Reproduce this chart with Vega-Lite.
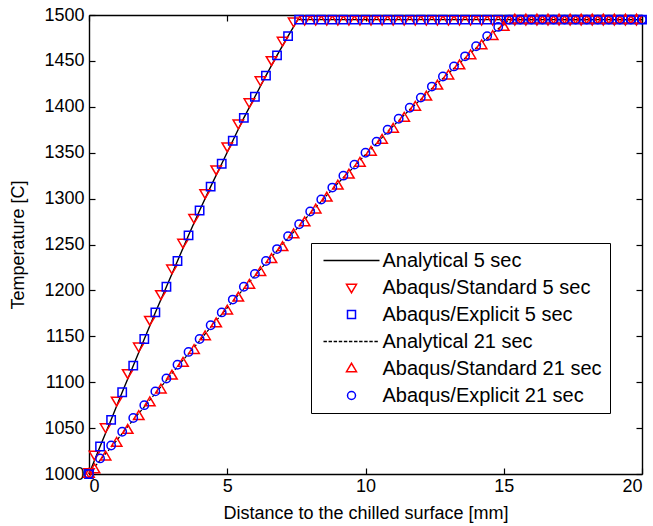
{
  "$schema": "https://vega.github.io/schema/vega-lite/v6.json",
  "width": 553,
  "height": 459,
  "autosize": {"type": "none"},
  "padding": {"left": 89, "top": 15, "right": 11, "bottom": 52},
  "background": "white",
  "config": {
    "view": {"stroke": null},
    "font": "Liberation Sans",
    "axis": {
      "grid": false,
      "domainColor": "black",
      "domainWidth": 1.4,
      "tickColor": "black",
      "tickWidth": 1.2,
      "tickSize": -6,
      "labelFont": "Liberation Sans",
      "labelFontSize": 18,
      "labelColor": "black",
      "titleFont": "Liberation Sans",
      "titleFontSize": 18,
      "titleFontWeight": "normal",
      "titleColor": "black"
    }
  },
  "data": {
    "values": [
      {"series": "Analytical 5 sec", "x": 0, "temp": 1000},
      {"series": "Analytical 5 sec", "x": 0.4, "temp": 1030},
      {"series": "Analytical 5 sec", "x": 0.8, "temp": 1059},
      {"series": "Analytical 5 sec", "x": 1.2, "temp": 1089},
      {"series": "Analytical 5 sec", "x": 1.6, "temp": 1118},
      {"series": "Analytical 5 sec", "x": 2.0, "temp": 1147},
      {"series": "Analytical 5 sec", "x": 2.4, "temp": 1176},
      {"series": "Analytical 5 sec", "x": 2.8, "temp": 1204},
      {"series": "Analytical 5 sec", "x": 3.2, "temp": 1232},
      {"series": "Analytical 5 sec", "x": 3.6, "temp": 1260},
      {"series": "Analytical 5 sec", "x": 4.0, "temp": 1287},
      {"series": "Analytical 5 sec", "x": 4.4, "temp": 1313},
      {"series": "Analytical 5 sec", "x": 4.8, "temp": 1338},
      {"series": "Analytical 5 sec", "x": 5.2, "temp": 1363},
      {"series": "Analytical 5 sec", "x": 5.6, "temp": 1388},
      {"series": "Analytical 5 sec", "x": 6.0, "temp": 1411},
      {"series": "Analytical 5 sec", "x": 6.4, "temp": 1434},
      {"series": "Analytical 5 sec", "x": 6.8, "temp": 1456},
      {"series": "Analytical 5 sec", "x": 7.2, "temp": 1477},
      {"series": "Analytical 5 sec", "x": 7.55, "temp": 1495},
      {"series": "Analytical 5 sec", "x": 20, "temp": 1495},

      {"series": "Abaqus/Standard 5 sec", "x": 0, "temp": 1002},
      {"series": "Abaqus/Standard 5 sec", "x": 0.2, "temp": 1021},
      {"series": "Abaqus/Standard 5 sec", "x": 0.6, "temp": 1051},
      {"series": "Abaqus/Standard 5 sec", "x": 1.0, "temp": 1080},
      {"series": "Abaqus/Standard 5 sec", "x": 1.4, "temp": 1110},
      {"series": "Abaqus/Standard 5 sec", "x": 1.8, "temp": 1139},
      {"series": "Abaqus/Standard 5 sec", "x": 2.2, "temp": 1168},
      {"series": "Abaqus/Standard 5 sec", "x": 2.6, "temp": 1196},
      {"series": "Abaqus/Standard 5 sec", "x": 3.0, "temp": 1224},
      {"series": "Abaqus/Standard 5 sec", "x": 3.4, "temp": 1252},
      {"series": "Abaqus/Standard 5 sec", "x": 3.8, "temp": 1279},
      {"series": "Abaqus/Standard 5 sec", "x": 4.2, "temp": 1306},
      {"series": "Abaqus/Standard 5 sec", "x": 4.6, "temp": 1332},
      {"series": "Abaqus/Standard 5 sec", "x": 5.0, "temp": 1357},
      {"series": "Abaqus/Standard 5 sec", "x": 5.4, "temp": 1382},
      {"series": "Abaqus/Standard 5 sec", "x": 5.8, "temp": 1405},
      {"series": "Abaqus/Standard 5 sec", "x": 6.2, "temp": 1429},
      {"series": "Abaqus/Standard 5 sec", "x": 6.6, "temp": 1451},
      {"series": "Abaqus/Standard 5 sec", "x": 7.0, "temp": 1472},
      {"series": "Abaqus/Standard 5 sec", "x": 7.4, "temp": 1493},
      {"series": "Abaqus/Standard 5 sec", "x": 7.8, "temp": 1495},
      {"series": "Abaqus/Standard 5 sec", "x": 8.2, "temp": 1495},
      {"series": "Abaqus/Standard 5 sec", "x": 8.6, "temp": 1495},
      {"series": "Abaqus/Standard 5 sec", "x": 9.0, "temp": 1495},
      {"series": "Abaqus/Standard 5 sec", "x": 9.4, "temp": 1495},
      {"series": "Abaqus/Standard 5 sec", "x": 9.8, "temp": 1495},
      {"series": "Abaqus/Standard 5 sec", "x": 10.2, "temp": 1495},
      {"series": "Abaqus/Standard 5 sec", "x": 10.6, "temp": 1495},
      {"series": "Abaqus/Standard 5 sec", "x": 11.0, "temp": 1495},
      {"series": "Abaqus/Standard 5 sec", "x": 11.4, "temp": 1495},
      {"series": "Abaqus/Standard 5 sec", "x": 11.8, "temp": 1495},
      {"series": "Abaqus/Standard 5 sec", "x": 12.2, "temp": 1495},
      {"series": "Abaqus/Standard 5 sec", "x": 12.6, "temp": 1495},
      {"series": "Abaqus/Standard 5 sec", "x": 13.0, "temp": 1495},
      {"series": "Abaqus/Standard 5 sec", "x": 13.4, "temp": 1495},
      {"series": "Abaqus/Standard 5 sec", "x": 13.8, "temp": 1495},
      {"series": "Abaqus/Standard 5 sec", "x": 14.2, "temp": 1495},
      {"series": "Abaqus/Standard 5 sec", "x": 14.6, "temp": 1495},
      {"series": "Abaqus/Standard 5 sec", "x": 15.0, "temp": 1495},
      {"series": "Abaqus/Standard 5 sec", "x": 15.4, "temp": 1495},
      {"series": "Abaqus/Standard 5 sec", "x": 15.8, "temp": 1495},
      {"series": "Abaqus/Standard 5 sec", "x": 16.2, "temp": 1495},
      {"series": "Abaqus/Standard 5 sec", "x": 16.6, "temp": 1495},
      {"series": "Abaqus/Standard 5 sec", "x": 17.0, "temp": 1495},
      {"series": "Abaqus/Standard 5 sec", "x": 17.4, "temp": 1495},
      {"series": "Abaqus/Standard 5 sec", "x": 17.8, "temp": 1495},
      {"series": "Abaqus/Standard 5 sec", "x": 18.2, "temp": 1495},
      {"series": "Abaqus/Standard 5 sec", "x": 18.6, "temp": 1495},
      {"series": "Abaqus/Standard 5 sec", "x": 19.0, "temp": 1495},
      {"series": "Abaqus/Standard 5 sec", "x": 19.4, "temp": 1495},
      {"series": "Abaqus/Standard 5 sec", "x": 19.8, "temp": 1495},

      {"series": "Abaqus/Explicit 5 sec", "x": 0, "temp": 1000},
      {"series": "Abaqus/Explicit 5 sec", "x": 0.4, "temp": 1030},
      {"series": "Abaqus/Explicit 5 sec", "x": 0.8, "temp": 1059},
      {"series": "Abaqus/Explicit 5 sec", "x": 1.2, "temp": 1089},
      {"series": "Abaqus/Explicit 5 sec", "x": 1.6, "temp": 1118},
      {"series": "Abaqus/Explicit 5 sec", "x": 2.0, "temp": 1147},
      {"series": "Abaqus/Explicit 5 sec", "x": 2.4, "temp": 1176},
      {"series": "Abaqus/Explicit 5 sec", "x": 2.8, "temp": 1204},
      {"series": "Abaqus/Explicit 5 sec", "x": 3.2, "temp": 1232},
      {"series": "Abaqus/Explicit 5 sec", "x": 3.6, "temp": 1260},
      {"series": "Abaqus/Explicit 5 sec", "x": 4.0, "temp": 1287},
      {"series": "Abaqus/Explicit 5 sec", "x": 4.4, "temp": 1313},
      {"series": "Abaqus/Explicit 5 sec", "x": 4.8, "temp": 1338},
      {"series": "Abaqus/Explicit 5 sec", "x": 5.2, "temp": 1363},
      {"series": "Abaqus/Explicit 5 sec", "x": 5.6, "temp": 1388},
      {"series": "Abaqus/Explicit 5 sec", "x": 6.0, "temp": 1411},
      {"series": "Abaqus/Explicit 5 sec", "x": 6.4, "temp": 1434},
      {"series": "Abaqus/Explicit 5 sec", "x": 6.8, "temp": 1456},
      {"series": "Abaqus/Explicit 5 sec", "x": 7.2, "temp": 1477},
      {"series": "Abaqus/Explicit 5 sec", "x": 7.6, "temp": 1495},
      {"series": "Abaqus/Explicit 5 sec", "x": 8.0, "temp": 1495},
      {"series": "Abaqus/Explicit 5 sec", "x": 8.4, "temp": 1495},
      {"series": "Abaqus/Explicit 5 sec", "x": 8.8, "temp": 1495},
      {"series": "Abaqus/Explicit 5 sec", "x": 9.2, "temp": 1495},
      {"series": "Abaqus/Explicit 5 sec", "x": 9.6, "temp": 1495},
      {"series": "Abaqus/Explicit 5 sec", "x": 10.0, "temp": 1495},
      {"series": "Abaqus/Explicit 5 sec", "x": 10.4, "temp": 1495},
      {"series": "Abaqus/Explicit 5 sec", "x": 10.8, "temp": 1495},
      {"series": "Abaqus/Explicit 5 sec", "x": 11.2, "temp": 1495},
      {"series": "Abaqus/Explicit 5 sec", "x": 11.6, "temp": 1495},
      {"series": "Abaqus/Explicit 5 sec", "x": 12.0, "temp": 1495},
      {"series": "Abaqus/Explicit 5 sec", "x": 12.4, "temp": 1495},
      {"series": "Abaqus/Explicit 5 sec", "x": 12.8, "temp": 1495},
      {"series": "Abaqus/Explicit 5 sec", "x": 13.2, "temp": 1495},
      {"series": "Abaqus/Explicit 5 sec", "x": 13.6, "temp": 1495},
      {"series": "Abaqus/Explicit 5 sec", "x": 14.0, "temp": 1495},
      {"series": "Abaqus/Explicit 5 sec", "x": 14.4, "temp": 1495},
      {"series": "Abaqus/Explicit 5 sec", "x": 14.8, "temp": 1495},
      {"series": "Abaqus/Explicit 5 sec", "x": 15.2, "temp": 1495},
      {"series": "Abaqus/Explicit 5 sec", "x": 15.6, "temp": 1495},
      {"series": "Abaqus/Explicit 5 sec", "x": 16.0, "temp": 1495},
      {"series": "Abaqus/Explicit 5 sec", "x": 16.4, "temp": 1495},
      {"series": "Abaqus/Explicit 5 sec", "x": 16.8, "temp": 1495},
      {"series": "Abaqus/Explicit 5 sec", "x": 17.2, "temp": 1495},
      {"series": "Abaqus/Explicit 5 sec", "x": 17.6, "temp": 1495},
      {"series": "Abaqus/Explicit 5 sec", "x": 18.0, "temp": 1495},
      {"series": "Abaqus/Explicit 5 sec", "x": 18.4, "temp": 1495},
      {"series": "Abaqus/Explicit 5 sec", "x": 18.8, "temp": 1495},
      {"series": "Abaqus/Explicit 5 sec", "x": 19.2, "temp": 1495},
      {"series": "Abaqus/Explicit 5 sec", "x": 19.6, "temp": 1495},
      {"series": "Abaqus/Explicit 5 sec", "x": 20.0, "temp": 1495},

      {"series": "Analytical 21 sec", "x": 0, "temp": 1000},
      {"series": "Analytical 21 sec", "x": 0.4, "temp": 1015},
      {"series": "Analytical 21 sec", "x": 0.8, "temp": 1029},
      {"series": "Analytical 21 sec", "x": 1.2, "temp": 1044},
      {"series": "Analytical 21 sec", "x": 1.6, "temp": 1059},
      {"series": "Analytical 21 sec", "x": 2.0, "temp": 1073},
      {"series": "Analytical 21 sec", "x": 2.4, "temp": 1088},
      {"series": "Analytical 21 sec", "x": 2.8, "temp": 1102},
      {"series": "Analytical 21 sec", "x": 3.2, "temp": 1117},
      {"series": "Analytical 21 sec", "x": 3.6, "temp": 1131},
      {"series": "Analytical 21 sec", "x": 4.0, "temp": 1145},
      {"series": "Analytical 21 sec", "x": 4.4, "temp": 1160},
      {"series": "Analytical 21 sec", "x": 4.8, "temp": 1174},
      {"series": "Analytical 21 sec", "x": 5.2, "temp": 1188},
      {"series": "Analytical 21 sec", "x": 5.6, "temp": 1202},
      {"series": "Analytical 21 sec", "x": 6.0, "temp": 1216},
      {"series": "Analytical 21 sec", "x": 6.4, "temp": 1230},
      {"series": "Analytical 21 sec", "x": 6.8, "temp": 1243},
      {"series": "Analytical 21 sec", "x": 7.2, "temp": 1257},
      {"series": "Analytical 21 sec", "x": 7.6, "temp": 1270},
      {"series": "Analytical 21 sec", "x": 8.0, "temp": 1284},
      {"series": "Analytical 21 sec", "x": 8.4, "temp": 1297},
      {"series": "Analytical 21 sec", "x": 8.8, "temp": 1310},
      {"series": "Analytical 21 sec", "x": 9.2, "temp": 1323},
      {"series": "Analytical 21 sec", "x": 9.6, "temp": 1335},
      {"series": "Analytical 21 sec", "x": 10.0, "temp": 1348},
      {"series": "Analytical 21 sec", "x": 10.4, "temp": 1360},
      {"series": "Analytical 21 sec", "x": 10.8, "temp": 1373},
      {"series": "Analytical 21 sec", "x": 11.2, "temp": 1385},
      {"series": "Analytical 21 sec", "x": 11.6, "temp": 1397},
      {"series": "Analytical 21 sec", "x": 12.0, "temp": 1408},
      {"series": "Analytical 21 sec", "x": 12.4, "temp": 1420},
      {"series": "Analytical 21 sec", "x": 12.8, "temp": 1431},
      {"series": "Analytical 21 sec", "x": 13.2, "temp": 1442},
      {"series": "Analytical 21 sec", "x": 13.6, "temp": 1453},
      {"series": "Analytical 21 sec", "x": 14.0, "temp": 1464},
      {"series": "Analytical 21 sec", "x": 14.4, "temp": 1475},
      {"series": "Analytical 21 sec", "x": 14.8, "temp": 1485},
      {"series": "Analytical 21 sec", "x": 15.2, "temp": 1495},
      {"series": "Analytical 21 sec", "x": 20, "temp": 1495},

      {"series": "Abaqus/Standard 21 sec", "x": 0, "temp": 1000},
      {"series": "Abaqus/Standard 21 sec", "x": 0.2, "temp": 1005},
      {"series": "Abaqus/Standard 21 sec", "x": 0.6, "temp": 1019},
      {"series": "Abaqus/Standard 21 sec", "x": 1.0, "temp": 1034},
      {"series": "Abaqus/Standard 21 sec", "x": 1.4, "temp": 1048},
      {"series": "Abaqus/Standard 21 sec", "x": 1.8, "temp": 1063},
      {"series": "Abaqus/Standard 21 sec", "x": 2.2, "temp": 1078},
      {"series": "Abaqus/Standard 21 sec", "x": 2.6, "temp": 1092},
      {"series": "Abaqus/Standard 21 sec", "x": 3.0, "temp": 1107},
      {"series": "Abaqus/Standard 21 sec", "x": 3.4, "temp": 1121},
      {"series": "Abaqus/Standard 21 sec", "x": 3.8, "temp": 1135},
      {"series": "Abaqus/Standard 21 sec", "x": 4.2, "temp": 1150},
      {"series": "Abaqus/Standard 21 sec", "x": 4.6, "temp": 1164},
      {"series": "Abaqus/Standard 21 sec", "x": 5.0, "temp": 1178},
      {"series": "Abaqus/Standard 21 sec", "x": 5.4, "temp": 1192},
      {"series": "Abaqus/Standard 21 sec", "x": 5.8, "temp": 1206},
      {"series": "Abaqus/Standard 21 sec", "x": 6.2, "temp": 1220},
      {"series": "Abaqus/Standard 21 sec", "x": 6.6, "temp": 1234},
      {"series": "Abaqus/Standard 21 sec", "x": 7.0, "temp": 1247},
      {"series": "Abaqus/Standard 21 sec", "x": 7.4, "temp": 1261},
      {"series": "Abaqus/Standard 21 sec", "x": 7.8, "temp": 1274},
      {"series": "Abaqus/Standard 21 sec", "x": 8.2, "temp": 1288},
      {"series": "Abaqus/Standard 21 sec", "x": 8.6, "temp": 1301},
      {"series": "Abaqus/Standard 21 sec", "x": 9.0, "temp": 1314},
      {"series": "Abaqus/Standard 21 sec", "x": 9.4, "temp": 1326},
      {"series": "Abaqus/Standard 21 sec", "x": 9.8, "temp": 1339},
      {"series": "Abaqus/Standard 21 sec", "x": 10.2, "temp": 1351},
      {"series": "Abaqus/Standard 21 sec", "x": 10.6, "temp": 1364},
      {"series": "Abaqus/Standard 21 sec", "x": 11.0, "temp": 1376},
      {"series": "Abaqus/Standard 21 sec", "x": 11.4, "temp": 1388},
      {"series": "Abaqus/Standard 21 sec", "x": 11.8, "temp": 1400},
      {"series": "Abaqus/Standard 21 sec", "x": 12.2, "temp": 1411},
      {"series": "Abaqus/Standard 21 sec", "x": 12.6, "temp": 1423},
      {"series": "Abaqus/Standard 21 sec", "x": 13.0, "temp": 1434},
      {"series": "Abaqus/Standard 21 sec", "x": 13.4, "temp": 1445},
      {"series": "Abaqus/Standard 21 sec", "x": 13.8, "temp": 1456},
      {"series": "Abaqus/Standard 21 sec", "x": 14.2, "temp": 1467},
      {"series": "Abaqus/Standard 21 sec", "x": 14.6, "temp": 1477},
      {"series": "Abaqus/Standard 21 sec", "x": 15.0, "temp": 1487},
      {"series": "Abaqus/Standard 21 sec", "x": 15.4, "temp": 1495},
      {"series": "Abaqus/Standard 21 sec", "x": 15.8, "temp": 1495},
      {"series": "Abaqus/Standard 21 sec", "x": 16.2, "temp": 1495},
      {"series": "Abaqus/Standard 21 sec", "x": 16.6, "temp": 1495},
      {"series": "Abaqus/Standard 21 sec", "x": 17.0, "temp": 1495},
      {"series": "Abaqus/Standard 21 sec", "x": 17.4, "temp": 1495},
      {"series": "Abaqus/Standard 21 sec", "x": 17.8, "temp": 1495},
      {"series": "Abaqus/Standard 21 sec", "x": 18.2, "temp": 1495},
      {"series": "Abaqus/Standard 21 sec", "x": 18.6, "temp": 1495},
      {"series": "Abaqus/Standard 21 sec", "x": 19.0, "temp": 1495},
      {"series": "Abaqus/Standard 21 sec", "x": 19.4, "temp": 1495},
      {"series": "Abaqus/Standard 21 sec", "x": 19.8, "temp": 1495},

      {"series": "Abaqus/Explicit 21 sec", "x": 0, "temp": 1000},
      {"series": "Abaqus/Explicit 21 sec", "x": 0.4, "temp": 1017},
      {"series": "Abaqus/Explicit 21 sec", "x": 0.8, "temp": 1031},
      {"series": "Abaqus/Explicit 21 sec", "x": 1.2, "temp": 1046},
      {"series": "Abaqus/Explicit 21 sec", "x": 1.6, "temp": 1061},
      {"series": "Abaqus/Explicit 21 sec", "x": 2.0, "temp": 1075},
      {"series": "Abaqus/Explicit 21 sec", "x": 2.4, "temp": 1090},
      {"series": "Abaqus/Explicit 21 sec", "x": 2.8, "temp": 1104},
      {"series": "Abaqus/Explicit 21 sec", "x": 3.2, "temp": 1119},
      {"series": "Abaqus/Explicit 21 sec", "x": 3.6, "temp": 1133},
      {"series": "Abaqus/Explicit 21 sec", "x": 4.0, "temp": 1147},
      {"series": "Abaqus/Explicit 21 sec", "x": 4.4, "temp": 1162},
      {"series": "Abaqus/Explicit 21 sec", "x": 4.8, "temp": 1176},
      {"series": "Abaqus/Explicit 21 sec", "x": 5.2, "temp": 1190},
      {"series": "Abaqus/Explicit 21 sec", "x": 5.6, "temp": 1204},
      {"series": "Abaqus/Explicit 21 sec", "x": 6.0, "temp": 1218},
      {"series": "Abaqus/Explicit 21 sec", "x": 6.4, "temp": 1232},
      {"series": "Abaqus/Explicit 21 sec", "x": 6.8, "temp": 1245},
      {"series": "Abaqus/Explicit 21 sec", "x": 7.2, "temp": 1259},
      {"series": "Abaqus/Explicit 21 sec", "x": 7.6, "temp": 1272},
      {"series": "Abaqus/Explicit 21 sec", "x": 8.0, "temp": 1286},
      {"series": "Abaqus/Explicit 21 sec", "x": 8.4, "temp": 1299},
      {"series": "Abaqus/Explicit 21 sec", "x": 8.8, "temp": 1312},
      {"series": "Abaqus/Explicit 21 sec", "x": 9.2, "temp": 1325},
      {"series": "Abaqus/Explicit 21 sec", "x": 9.6, "temp": 1337},
      {"series": "Abaqus/Explicit 21 sec", "x": 10.0, "temp": 1350},
      {"series": "Abaqus/Explicit 21 sec", "x": 10.4, "temp": 1362},
      {"series": "Abaqus/Explicit 21 sec", "x": 10.8, "temp": 1375},
      {"series": "Abaqus/Explicit 21 sec", "x": 11.2, "temp": 1387},
      {"series": "Abaqus/Explicit 21 sec", "x": 11.6, "temp": 1399},
      {"series": "Abaqus/Explicit 21 sec", "x": 12.0, "temp": 1410},
      {"series": "Abaqus/Explicit 21 sec", "x": 12.4, "temp": 1422},
      {"series": "Abaqus/Explicit 21 sec", "x": 12.8, "temp": 1433},
      {"series": "Abaqus/Explicit 21 sec", "x": 13.2, "temp": 1444},
      {"series": "Abaqus/Explicit 21 sec", "x": 13.6, "temp": 1455},
      {"series": "Abaqus/Explicit 21 sec", "x": 14.0, "temp": 1466},
      {"series": "Abaqus/Explicit 21 sec", "x": 14.4, "temp": 1477},
      {"series": "Abaqus/Explicit 21 sec", "x": 14.8, "temp": 1487},
      {"series": "Abaqus/Explicit 21 sec", "x": 15.2, "temp": 1495},
      {"series": "Abaqus/Explicit 21 sec", "x": 15.6, "temp": 1495},
      {"series": "Abaqus/Explicit 21 sec", "x": 16.0, "temp": 1495},
      {"series": "Abaqus/Explicit 21 sec", "x": 16.4, "temp": 1495},
      {"series": "Abaqus/Explicit 21 sec", "x": 16.8, "temp": 1495},
      {"series": "Abaqus/Explicit 21 sec", "x": 17.2, "temp": 1495},
      {"series": "Abaqus/Explicit 21 sec", "x": 17.6, "temp": 1495},
      {"series": "Abaqus/Explicit 21 sec", "x": 18.0, "temp": 1495},
      {"series": "Abaqus/Explicit 21 sec", "x": 18.4, "temp": 1495},
      {"series": "Abaqus/Explicit 21 sec", "x": 18.8, "temp": 1495},
      {"series": "Abaqus/Explicit 21 sec", "x": 19.2, "temp": 1495},
      {"series": "Abaqus/Explicit 21 sec", "x": 19.6, "temp": 1495},
      {"series": "Abaqus/Explicit 21 sec", "x": 20.0, "temp": 1495}
    ]
  },
  "resolve": {"axis": {"x": "independent", "y": "independent"}},
  "layer": [
    {
      "transform": [{"filter": {"field": "series", "equal": "Analytical 5 sec"}}],
      "mark": {"type": "line", "color": "black", "strokeWidth": 1.4},
      "encoding": {
        "x": {"field": "x", "type": "quantitative", "scale": {"domain": [0, 20], "nice": false},
              "axis": {"orient": "bottom", "values": [0, 5, 10, 15, 20], "format": "d", "labelPadding": 9, "title": "Distance to the chilled surface [mm]", "titleY": 44, "titleBaseline": "alphabetic"}},
        "y": {"field": "temp", "type": "quantitative", "scale": {"domain": [1000, 1500], "nice": false, "zero": false},
              "axis": {"orient": "left", "values": [1000, 1050, 1100, 1150, 1200, 1250, 1300, 1350, 1400, 1450, 1500], "format": "d", "labelPadding": 11, "title": "Temperature [C]", "titleX": -71, "titleBaseline": "middle"}}
      }
    },
    {
      "transform": [{"filter": {"field": "series", "equal": "Analytical 21 sec"}}],
      "mark": {"type": "line", "color": "black", "strokeWidth": 1.2, "strokeDash": [3, 2]},
      "encoding": {
        "x": {"field": "x", "type": "quantitative", "axis": null},
        "y": {"field": "temp", "type": "quantitative", "axis": null}
      }
    },
    {
      "transform": [{"filter": {"not": {"field": "series", "oneOf": ["Analytical 5 sec", "Analytical 21 sec"]}}}],
      "mark": {"type": "point", "filled": false, "strokeWidth": 1.5, "size": 70, "opacity": 1},
      "encoding": {
        "x": {"field": "x", "type": "quantitative", "axis": null},
        "y": {"field": "temp", "type": "quantitative", "axis": null},
        "color": {
          "field": "series", "type": "nominal",
          "scale": {
            "domain": ["Analytical 5 sec", "Abaqus/Standard 5 sec", "Abaqus/Explicit 5 sec", "Analytical 21 sec", "Abaqus/Standard 21 sec", "Abaqus/Explicit 21 sec"],
            "range": ["#000000", "#ff0000", "#0000ff", "#000000", "#ff0000", "#0000ff"]
          },
          "legend": {
            "orient": "none", "legendX": 222, "legendY": 228, "title": null,
            "labelFont": "Liberation Sans", "labelFontSize": 20, "labelColor": "black", "labelLimit": 0,
            "symbolSize": 64, "symbolStrokeWidth": 1.5, "symbolOffset": 23, "labelOffset": 21,
            "rowPadding": 7, "padding": 7.5, "strokeColor": "black", "fillColor": "white", "cornerRadius": 0
          }
        },
        "shape": {
          "field": "series", "type": "nominal",
          "scale": {
            "domain": ["Analytical 5 sec", "Abaqus/Standard 5 sec", "Abaqus/Explicit 5 sec", "Analytical 21 sec", "Abaqus/Standard 21 sec", "Abaqus/Explicit 21 sec"],
            "range": [
              "M-7,0H7",
              "M-1.25,-0.8L1.25,-0.8L0,1.3Z",
              "square",
              "M-7,0h0.85M-5.73,0h0.85M-4.46,0h0.85M-3.18,0h0.85M-1.91,0h0.85M-0.64,0h0.85M0.64,0h0.85M1.91,0h0.85M3.18,0h0.85M4.46,0h0.85M5.73,0h0.85",
              "M-1.25,0.8L1.25,0.8L0,-1.3Z",
              "circle"
            ]
          },
          "legend": {
            "orient": "none", "legendX": 222, "legendY": 228, "title": null,
            "labelFont": "Liberation Sans", "labelFontSize": 20, "labelColor": "black", "labelLimit": 0,
            "symbolSize": 64, "symbolStrokeWidth": 1.5, "symbolOffset": 23, "labelOffset": 21,
            "rowPadding": 7, "padding": 7.5, "strokeColor": "black", "fillColor": "white", "cornerRadius": 0
          }
        }
      }
    },
    {
      "transform": [{"filter": {"field": "series", "equal": "Analytical 5 sec"}}],
      "mark": {"type": "point", "opacity": 0},
      "encoding": {
        "x": {"field": "x", "type": "quantitative",
              "axis": {"orient": "top", "values": [0, 5, 10, 15, 20], "labels": false, "title": null}},
        "y": {"field": "temp", "type": "quantitative",
              "axis": {"orient": "right", "values": [1000, 1050, 1100, 1150, 1200, 1250, 1300, 1350, 1400, 1450, 1500], "labels": false, "title": null}}
      }
    }
  ]
}
